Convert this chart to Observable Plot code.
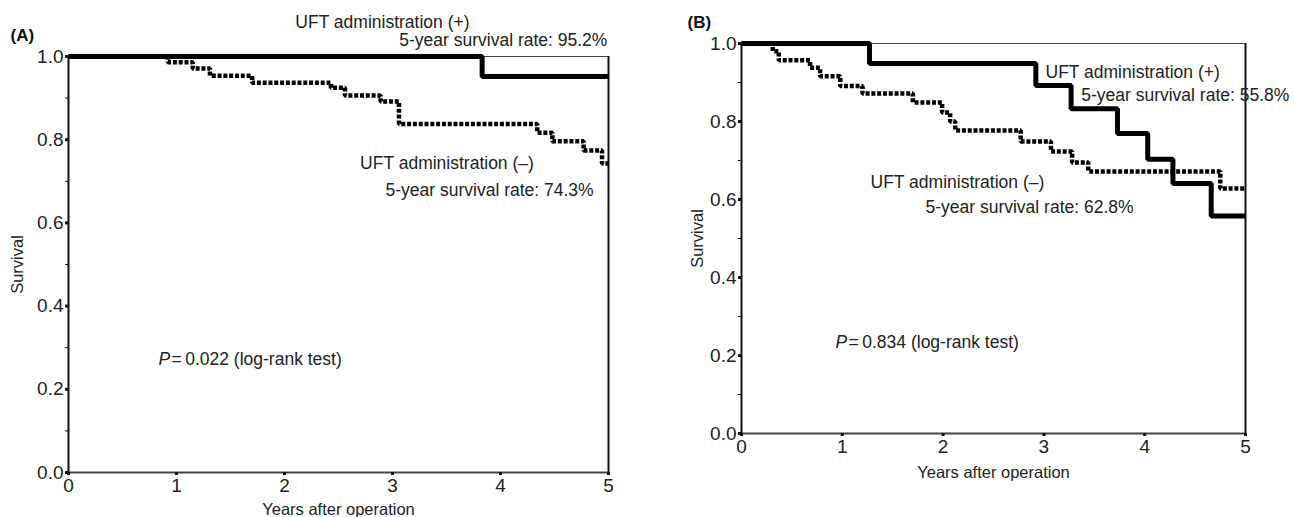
<!DOCTYPE html>
<html>
<head>
<meta charset="utf-8">
<script src="https://cdn.jsdelivr.net/npm/d3@7"></script>
<script src="https://cdn.jsdelivr.net/npm/@observablehq/plot@0.6"></script>
<style>
  html, body { margin: 0; padding: 0; background: #fff; }
  #wrap { position: relative; width: 1294px; height: 517px; overflow: hidden; }
  #panelA { position: absolute; left: 0; top: 0; }
  #panelB { position: absolute; left: 650px; top: 0; }
  svg g[aria-label$="tick label"] { font-size: 19px; }
</style>
</head>
<body>
<div id="wrap"><div id="panelA"></div><div id="panelB"></div></div>
<script>
// ---- Data ----
const followUp = 5;
const xTicks = [0, 1, 2, 3, 4, 5];
const yMajor = [0, 0.2, 0.4, 0.6, 0.8, 1.0];
const yMinor = [0.1, 0.3, 0.5, 0.7, 0.9];

// Panel A
const timeA_pos = [0, 3.83];
const survA_pos = [1.0, 0.952];
const timeA_neg = [0, 0.92, 1.15, 1.31, 1.70, 2.43, 2.56, 2.89, 3.06, 4.34, 4.48, 4.77, 4.94];
const survA_neg = [1.0, 0.986, 0.971, 0.954, 0.937, 0.925, 0.906, 0.892, 0.838, 0.817, 0.796, 0.774, 0.743];

// Panel B
const timeB_pos = [0, 1.27, 2.92, 3.27, 3.73, 4.03, 4.28, 4.66];
const survB_pos = [1.0, 0.949, 0.892, 0.833, 0.769, 0.703, 0.641, 0.558];
const timeB_neg = [0, 0.31, 0.37, 0.68, 0.78, 0.98, 1.20, 1.70, 1.99, 2.07, 2.12, 2.77, 3.07, 3.28, 3.44, 4.75];
const survB_neg = [1.0, 0.980, 0.957, 0.938, 0.916, 0.891, 0.872, 0.849, 0.823, 0.800, 0.777, 0.749, 0.723, 0.695, 0.672, 0.628];

const labelsA = {
  pos: "UFT administration (+)", posRate: "5-year survival rate: 95.2%",
  neg: "UFT administration (\u2013)", negRate: "5-year survival rate: 74.3%",
  pValue: "0.022"
};
const labelsB = {
  pos: "UFT administration (+)", posRate: "5-year survival rate: 55.8%",
  neg: "UFT administration (\u2013)", negRate: "5-year survival rate: 62.8%",
  pValue: "0.834"
};

function series(times, surv) {
  const pts = times.map((t, i) => ({t, s: surv[i]}));
  pts.push({t: followUp, s: surv[surv.length - 1]});
  return pts;
}

const FONT = "'Liberation Sans', Arial, Helvetica, sans-serif";
const INK = "#222";

function panel({width, height, margins, pos, neg, labels, ann, tag, negOnTop}) {
  const solid = Plot.line(pos, {x: "t", y: "s", curve: "step-after", stroke: "#000", strokeWidth: 5, strokeLinejoin: "miter", strokeLinecap: "butt"});
  const dashed = Plot.line(neg, {x: "t", y: "s", curve: "step-after", stroke: "#000", strokeWidth: 4.5, strokeDasharray: "4,1.8", strokeLinecap: "butt", strokeLinejoin: "miter"});
  return Plot.plot({
    width, height,
    marginLeft: margins[0], marginRight: margins[1], marginTop: margins[2], marginBottom: margins[3],
    style: {fontFamily: FONT, fontSize: "17px", color: INK, background: "#fff", overflow: "visible"},
    x: {domain: [0, followUp]},
    y: {domain: [0, 1]},
    marks: [
      Plot.frame({stroke: "#444", strokeWidth: 1}),
      Plot.ruleX([followUp], {stroke: "#111", strokeWidth: 2}),
      ...(negOnTop ? [solid, dashed] : [dashed, solid]),
      Plot.ruleY([0], {stroke: "#444", strokeWidth: 2}),
      Plot.ruleX([0], {stroke: "#111", strokeWidth: 2}),
      Plot.axisY({ticks: yMajor, tickSize: 3, tickPadding: 2, strokeWidth: 3, stroke: "#111", tickFormat: d3.format(".1f"), fontSize: 19, label: null, fill: INK}),
      Plot.axisY({ticks: yMinor, tickSize: 3, tickPadding: 2, strokeWidth: 1, stroke: "#111", tickFormat: () => "", label: null}),
      Plot.axisX({ticks: xTicks, tickSize: 3, tickPadding: 3, strokeWidth: 3, stroke: "#111", tickFormat: d3.format("d"), fontSize: 19, label: null, fill: INK}),
      Plot.text(["Survival"], {frameAnchor: "left", dx: ann.survDx, rotate: -90, textAnchor: "middle", lineAnchor: "middle", fontSize: 16.5, fill: INK}),
      Plot.text(["Years after operation"], {frameAnchor: "bottom", dy: ann.yearsDy, textAnchor: "middle", lineAnchor: "middle", fontSize: 16.5, fill: INK}),
      Plot.text([tag], {frameAnchor: "top-left", dx: ann.tagDx, dy: ann.tagDy, textAnchor: "start", lineAnchor: "middle", fontWeight: "bold", fontSize: 17, fill: "#111"}),
      Plot.text([labels.pos], {x: ann.pos[0], y: ann.pos[1], textAnchor: "start", lineAnchor: "middle", fontSize: 17.5, fill: INK}),
      Plot.text([labels.posRate], {x: ann.posRate[0], y: ann.posRate[1], textAnchor: ann.posRate[2], lineAnchor: "middle", fontSize: 17.5, fill: INK}),
      Plot.text([labels.neg], {x: ann.neg[0], y: ann.neg[1], textAnchor: "start", lineAnchor: "middle", fontSize: 17.5, fill: INK}),
      Plot.text([labels.negRate], {x: ann.negRate[0], y: ann.negRate[1], textAnchor: "start", lineAnchor: "middle", fontSize: 17.5, fill: INK}),
      Plot.text(["P"], {x: ann.p[0], y: ann.p[1], textAnchor: "start", lineAnchor: "middle", fontSize: 17.5, fontStyle: "italic", fill: INK}),
      Plot.text(["=\u2009" + labels.pValue + " (log-rank test)"], {x: ann.p[0], y: ann.p[1], dx: 13, textAnchor: "start", lineAnchor: "middle", fontSize: 17.5, fill: INK})
    ]
  });
}

const chartA = panel({
  width: 640, height: 517, margins: [68, 32, 56, 45],
  pos: series(timeA_pos, survA_pos), neg: series(timeA_neg, survA_neg),
  labels: labelsA, tag: "(A)", negOnTop: false,
  ann: {
    survDx: -51, yearsDy: 37, tagDx: -58, tagDy: -21,
    pos: [2.10, 1.082], posRate: [4.99, 1.038, "end"],
    neg: [2.70, 0.743], negRate: [2.935, 0.678],
    p: [0.833, 0.272]
  }
});
document.getElementById("panelA").appendChild(chartA);

const chartB = panel({
  width: 644, height: 517, margins: [91, 49, 43, 84],
  pos: series(timeB_pos, survB_pos), neg: series(timeB_neg, survB_neg),
  labels: labelsB, tag: "(B)", negOnTop: true,
  ann: {
    survDx: -44, yearsDy: 39, tagDx: -54, tagDy: -21,
    pos: [3.016, 0.926], posRate: [3.37, 0.867, "start"],
    neg: [1.28, 0.644], negRate: [1.825, 0.579],
    p: [0.933, 0.233]
  }
});
document.getElementById("panelB").appendChild(chartB);
</script>
</body>
</html>
